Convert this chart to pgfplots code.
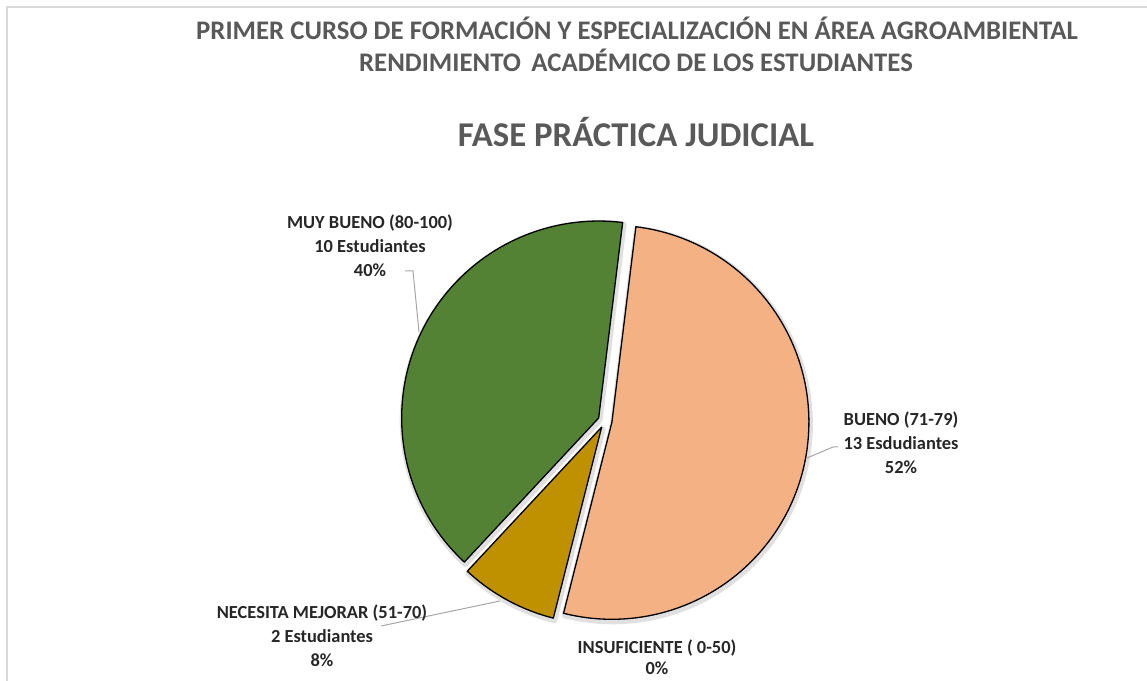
\documentclass[border=0pt]{standalone}
\usepackage{pgfplots}
\pgfplotsset{compat=1.18}
\usepackage{fontspec}
\setmainfont{Carlito}
\definecolor{cOr}{HTML}{F4B183}
\definecolor{cYe}{HTML}{BF9000}
\definecolor{cGr}{HTML}{548235}
\definecolor{cTit}{HTML}{595959}
\definecolor{cLab}{HTML}{262626}
\definecolor{cLead}{HTML}{A6A6A6}
\definecolor{cFrame}{HTML}{D9D9D9}
\newcommand\slice[3]{%
  \filldraw[fill=#3,draw=black,line width=1.3bp,line join=round]
    (axis cs:605,260) ++({(#1+#2)/2}:7bp) -- ++(#1:197bp)
    arc[start angle=#1,end angle=#2,radius=197bp] -- cycle;}
\newcommand\shadow[2]{%
  \draw[draw=black!12,line width=6bp,line join=round]
    (axis cs:606,258) ++({(#1+#2)/2}:7bp) -- ++(#1:197bp)
    arc[start angle=#1,end angle=#2,radius=197bp] -- cycle;}
\begin{document}
\begin{tikzpicture}
% values: BUENO 13, INSUFICIENTE 0, NECESITA MEJORAR 2, MUY BUENO 10
\pgfmathsetmacro\total{13+0+2+10}
\pgfmathsetmacro\aA{83}
\pgfmathsetmacro\aB{\aA-360*13/\total}
\pgfmathsetmacro\aC{\aB-360*0/\total}
\pgfmathsetmacro\aD{\aC-360*2/\total}
\pgfmathsetmacro\aE{\aD-360*10/\total}
\useasboundingbox (0,0) rectangle (1147bp,681bp);
\begin{axis}[
  at={(0,0)}, anchor=south west,
  scale only axis, width=1147bp, height=681bp,
  xmin=0, xmax=1147, ymin=0, ymax=681,
  hide axis, clip=false]
% frame
\draw[cFrame,line width=1.5bp] (axis cs:7,0) -- (axis cs:7,674) -- (axis cs:1147,674);
% titles
\node[cTit,font=\bfseries\fontsize{26.9}{32}\selectfont,inner sep=0] at (axis cs:637,653) {PRIMER CURSO DE FORMACIÓN Y ESPECIALIZACIÓN EN ÁREA AGROAMBIENTAL};
\node[cTit,font=\bfseries\fontsize{26.9}{32}\selectfont,inner sep=0] at (axis cs:636,621) {RENDIMIENTO \,ACADÉMICO DE LOS ESTUDIANTES};
\node[cTit,font=\bfseries\fontsize{34.9}{40}\selectfont,inner sep=0] at (axis cs:636,549) {FASE PRÁCTICA JUDICIAL};
% shadows
\shadow{\aA}{\aB}
\shadow{\aC}{\aD}
\shadow{\aD}{\aE}
% slices
\slice{\aA}{\aB}{cOr}
\slice{\aC}{\aD}{cYe}
\slice{\aD}{\aE}{cGr}
% leader lines
\draw[cLead,line width=1bp] (axis cs:405,410) -- (axis cs:413,410) -- (axis cs:419,349);
\draw[cLead,line width=1bp] (axis cs:807,223) -- (axis cs:833,234) -- (axis cs:838,234);
\draw[cLead,line width=1bp] (axis cs:381,55) -- (axis cs:500,80);
% labels
\node[cLab,font=\bfseries\fontsize{18.5}{24}\selectfont,align=center,inner sep=0] at (axis cs:370,435) {MUY BUENO (80-100)\\10 Estudiantes\\40\%};
\node[cLab,font=\bfseries\fontsize{18.5}{24}\selectfont,align=center,inner sep=0] at (axis cs:901,238) {BUENO (71-79)\\13 Esdudiantes\\52\%};
\node[cLab,font=\bfseries\fontsize{18.5}{24}\selectfont,align=center,inner sep=0] at (axis cs:322,45) {NECESITA MEJORAR (51-70)\\2 Estudiantes\\8\%};
\node[cLab,font=\bfseries\fontsize{18.5}{21}\selectfont,align=center,inner sep=0] at (axis cs:657,24) {INSUFICIENTE ( 0-50)\\0\%};
\end{axis}
\end{tikzpicture}
\end{document}
